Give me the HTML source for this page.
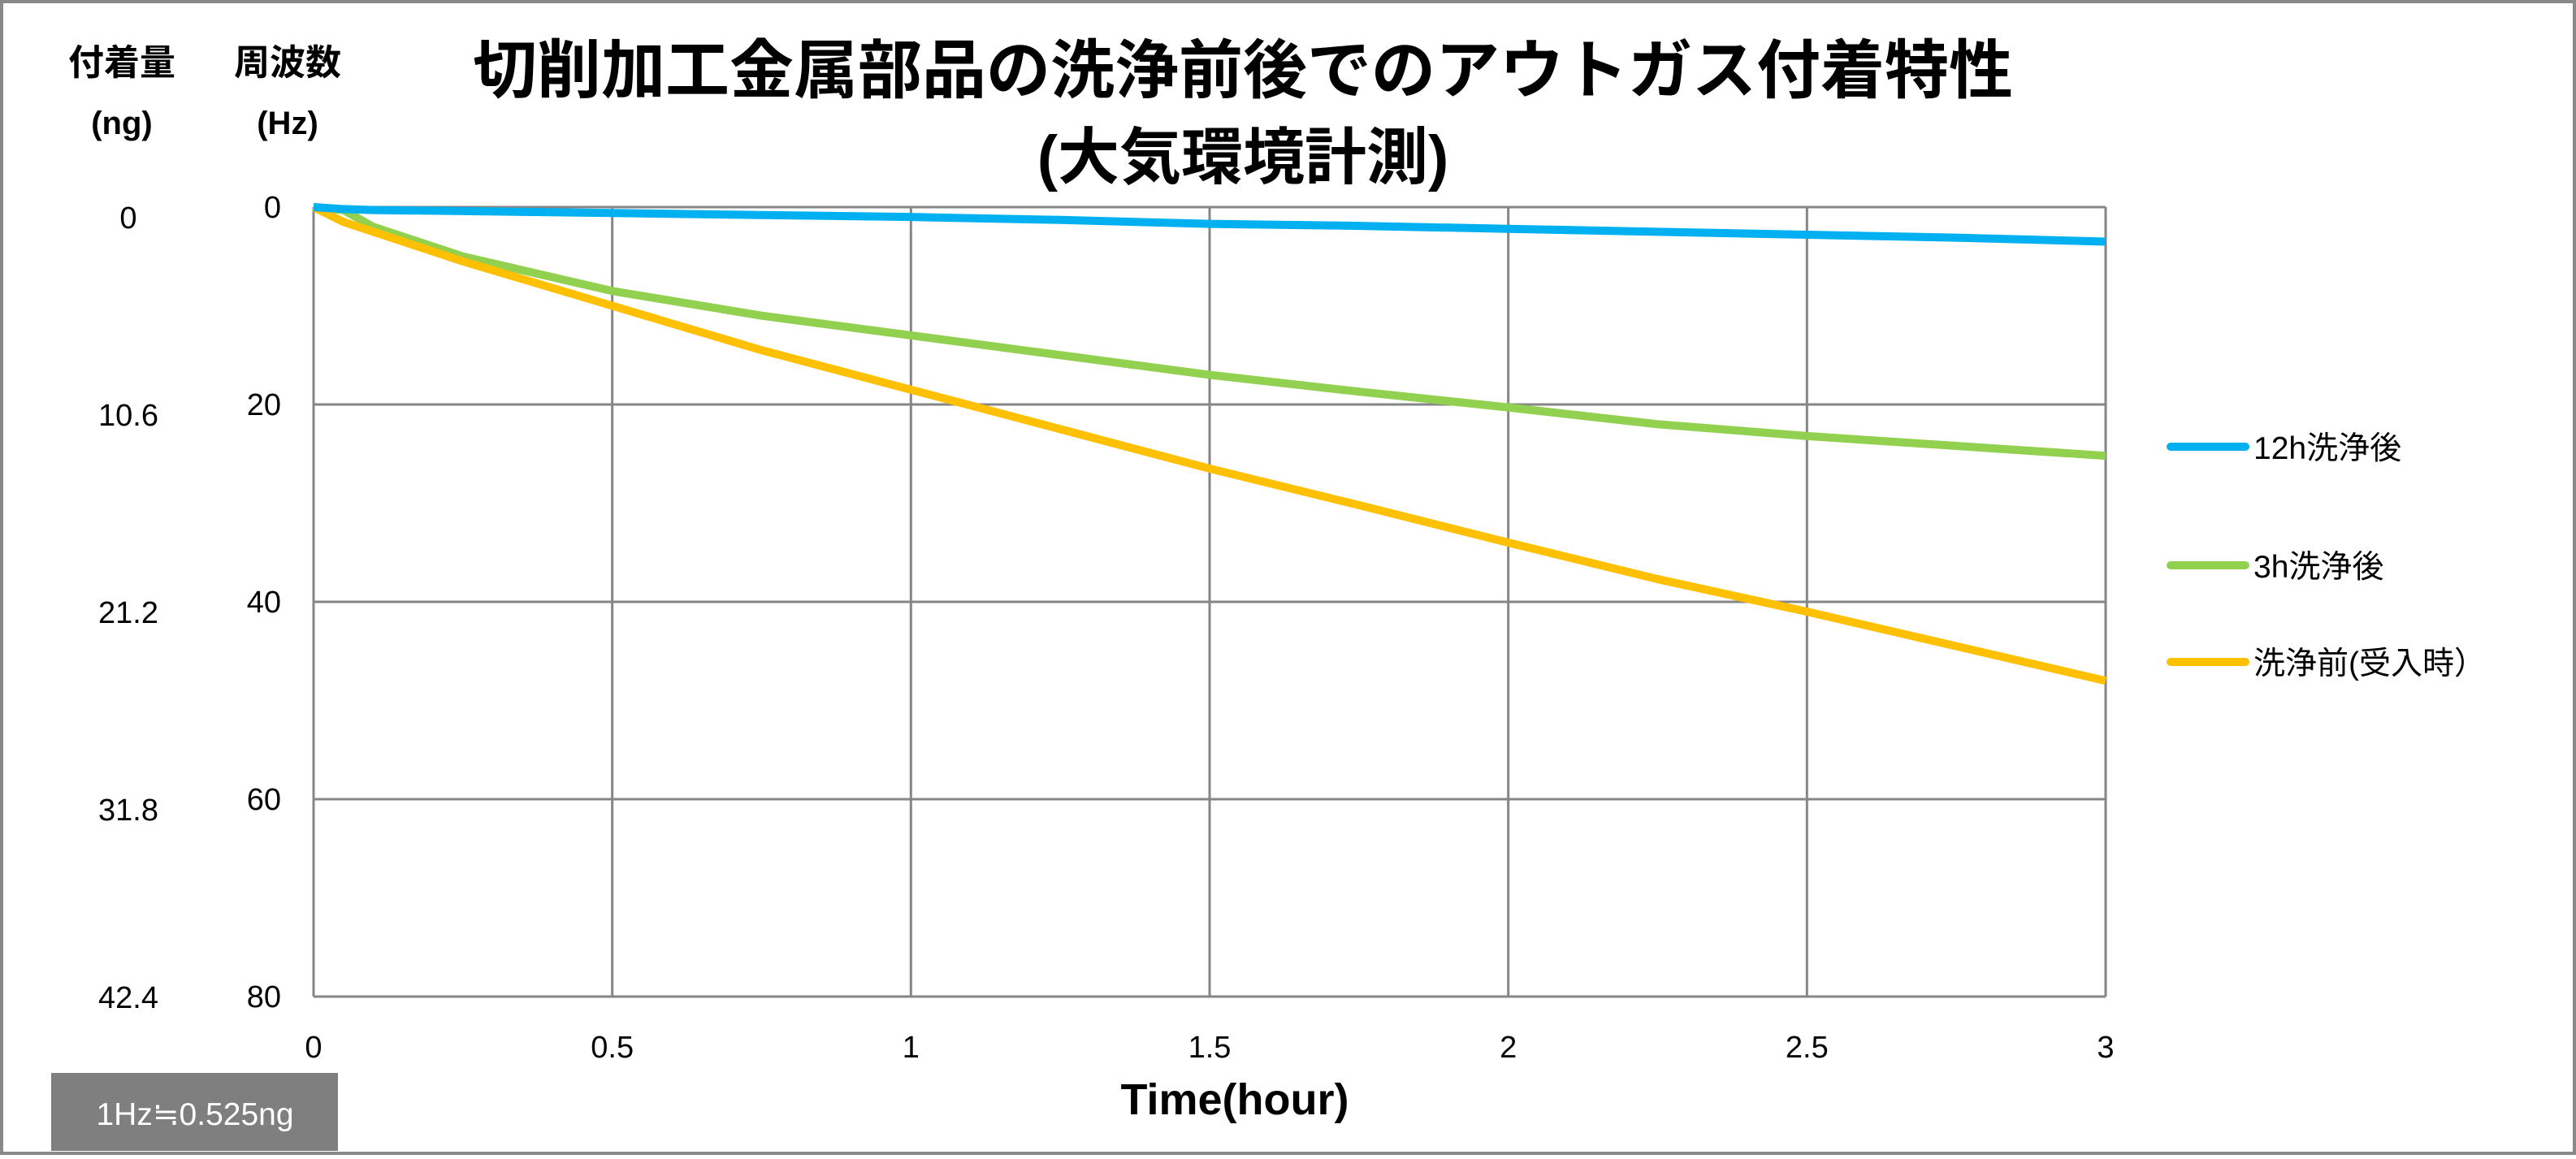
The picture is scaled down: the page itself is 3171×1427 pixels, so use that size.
<!DOCTYPE html>
<html><head><meta charset="utf-8"><style>
body{margin:0;background:#fff}
svg text{font-family:"Liberation Sans","Noto Sans CJK JP",sans-serif}
</style></head><body>
<svg width="3171" height="1422" viewBox="0 0 3171 1422" xmlns="http://www.w3.org/2000/svg">
<rect x="2" y="2" width="3167" height="1418" fill="#fff" stroke="#898989" stroke-width="4"/>
<text x="1530" y="114" font-size="79" font-weight="bold" text-anchor="middle">切削加工金属部品の洗浄前後でのアウトガス付着特性</text>
<text x="1530" y="220" font-size="76" font-weight="bold" text-anchor="middle">(大気環境計測)</text>
<text x="150" y="92" font-size="44" font-weight="bold" text-anchor="middle">付着量</text>
<text x="150" y="165" font-size="40" font-weight="bold" text-anchor="middle">(ng)</text>
<text x="354" y="92" font-size="44" font-weight="bold" text-anchor="middle">周波数</text>
<text x="354" y="165" font-size="40" font-weight="bold" text-anchor="middle">(Hz)</text>
<g id="grid"></g>
<g id="yt"></g>
<g id="ngt"></g>
<g id="xt"></g>
<g id="series"></g>
<text x="1520" y="1372" font-size="54" font-weight="bold" text-anchor="middle">Time(hour)</text>
<rect x="63" y="1321" width="353" height="96" fill="#7f7f7f"/>
<text x="240" y="1385" font-size="39" fill="#fff" text-anchor="middle">1Hz≒0.525ng</text>
<g id="legend"></g>
</svg>
<script>
const xTicks=[0,0.5,1,1.5,2,2.5,3];
const yTicks=[0,20,40,60,80];
const ngTicks=["0","10.6","21.2","31.8","42.4"];
const times=[0,0.05,0.1,0.25,0.5,0.75,1.0,1.25,1.5,1.75,2.0,2.25,2.5,2.75,3.0];
const blue=[0,0.2,0.3,0.4,0.6,0.8,1.0,1.3,1.7,1.9,2.2,2.5,2.8,3.1,3.5];
const green=[0,0.3,2,5,8.5,11,13,15,17,18.7,20.3,22,23.2,24.2,25.2];
const orange=[0,1.5,2.5,5.5,10,14.5,18.5,22.5,26.5,30.2,34,37.7,41,44.5,48];
const names=["12h洗浄後","3h洗浄後","洗浄前(受入時）"];
const colors=["#00b0f0","#92d050","#ffc000"];
const L=386,R=2592,T=255,B=1227;
const X=v=>L+(R-L)*v/3, Y=v=>T+(B-T)*v/80;
const NS="http://www.w3.org/2000/svg";
function mk(tag,attrs,parent){const e=document.createElementNS(NS,tag);for(const k in attrs)e.setAttribute(k,attrs[k]);parent.appendChild(e);return e;}
const grid=document.getElementById('grid');
yTicks.forEach((v,i)=>{
 const l=mk('line',{x1:L,x2:R,y1:Y(v),y2:Y(v),stroke:'#868686','stroke-width':3},grid);
 
 
 const t=mk('text',{x:346,y:Y(v)+13,'font-size':38,'text-anchor':'end'},document.getElementById('yt'));
 t.textContent=v;
 
 
 const n=mk('text',{x:158,y:Y(v)+(i==4?14:26),'font-size':38,'text-anchor':'middle'},document.getElementById('ngt'));
 n.textContent=ngTicks[i];
 
 
});
xTicks.forEach(v=>{
 const l=mk('line',{x1:X(v),x2:X(v),y1:T,y2:B,stroke:'#868686','stroke-width':3},grid);
 
 
 const t=mk('text',{x:X(v),y:1302,'font-size':38,'text-anchor':'middle'},document.getElementById('xt'));
 t.textContent=v;
 
 
});
const data=[blue,green,orange];
const order=[1,2,0];
order.forEach(s=>{
 const pts=times.map((t,i)=>X(t)+','+Y(data[s][i])).join(' ');
 const p=mk('polyline',{points:pts,fill:'none',stroke:colors[s],'stroke-width':10,'stroke-linejoin':'round'},document.getElementById('series'));
 
 
});
const ly=[550,696,815];
const lg=document.getElementById('legend');
names.forEach((n,i)=>{
 const l=mk('line',{x1:2672,x2:2764,y1:ly[i],y2:ly[i],stroke:colors[i],'stroke-width':10,'stroke-linecap':'round'},lg);
 
 
 const t=mk('text',{x:2774,y:ly[i]+15,'font-size':39},lg);
 t.textContent=n;
 
 
});
</script>
</body></html>
